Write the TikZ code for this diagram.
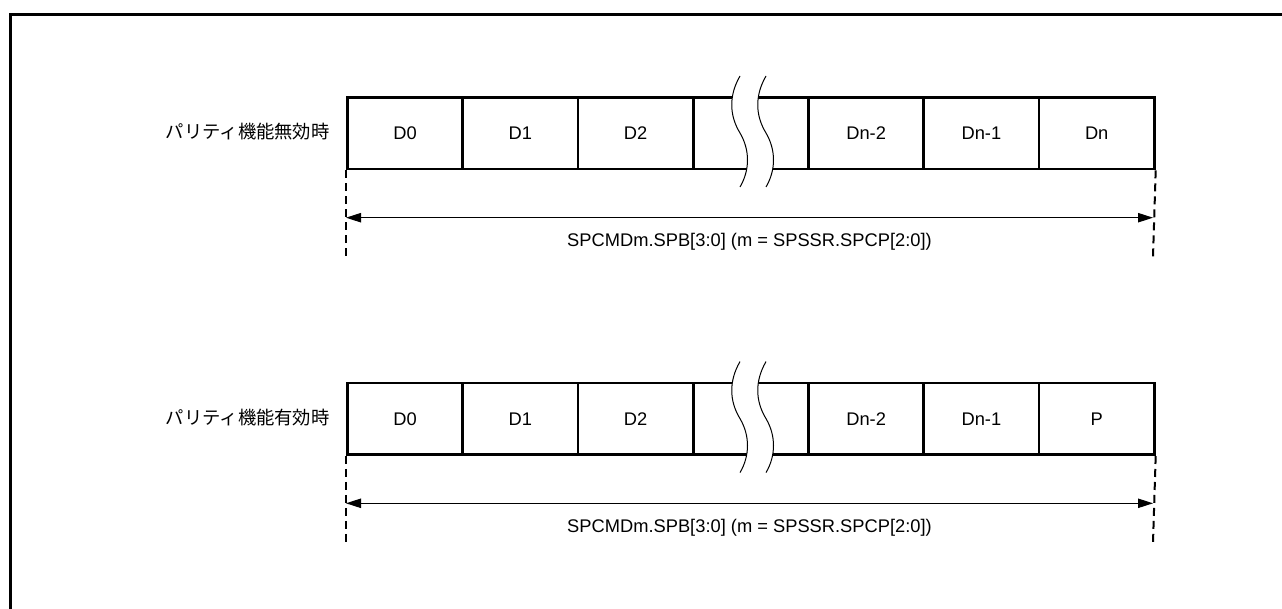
\documentclass[tikz,border=0pt]{standalone}
\usepackage{fontspec}
\setmainfont{Liberation Sans}
\newfontfamily\jpfont{Noto Sans CJK JP}
\usetikzlibrary{arrows.meta}
\begin{document}
\begin{tikzpicture}[x=0.5pt,y=-0.5pt,
  cell/.style={draw, line width=1.35pt, minimum width=57.643pt, minimum height=35.85pt,
    inner sep=0pt, anchor=north west, font=\fontsize{9.15}{11}\selectfont},
  frame/.style={line width=1.35pt, line join=miter},
  wave/.style={line width=0.5pt},
  dim/.style={line width=0.5pt, {Triangle[length=7.5pt,width=4.7pt]}-{Triangle[length=7.5pt,width=4.7pt]}},
  ext/.style={line width=1pt, dash pattern=on 4pt off 2.5pt},
  lbl/.style={font=\fontsize{9.15}{11}\selectfont},
  jlbl/.style={font=\jpfont\fontsize{9.15}{11}\selectfont, anchor=east, inner sep=0pt}]
\useasboundingbox (0,0) rectangle (1282,609);
\coordinate (ftr) at (1282,14.5);
\coordinate (ftl) at (10.7,14.5);
\coordinate (fbl) at (10.7,609);
\draw[frame] (ftr) -- (ftl) -- (fbl);
\foreach \r/\oy/\jl/\last in {1/0/パリティ機能無効時/Dn, 2/285.6/パリティ機能有効時/P}{
  \foreach \i/\t in {0/D0,1/D1,2/D2,3/{},4/Dn-2,5/Dn-1,6/\last}
    \node[cell] (r\r c\i) at ({346+\i*115.286},{96+\oy}) {\t};
  \fill[white] (740,{76+\oy}) .. controls (729,{95+\oy}) and (729,{115+\oy}) .. (740,{133+\oy})
     .. controls (750,{150+\oy}) and (750,{170+\oy}) .. (740,{187+\oy})
     -- (766,{187+\oy}) .. controls (776,{170+\oy}) and (776,{150+\oy}) .. (766,{133+\oy})
     .. controls (755,{115+\oy}) and (755,{95+\oy}) .. (766,{76+\oy}) -- cycle;
  \draw[wave] (740,{76+\oy}) .. controls (729,{95+\oy}) and (729,{115+\oy}) .. (740,{133+\oy})
     .. controls (750,{150+\oy}) and (750,{170+\oy}) .. (740,{187+\oy});
  \draw[wave] (766,{76+\oy}) .. controls (755,{95+\oy}) and (755,{115+\oy}) .. (766,{133+\oy})
     .. controls (776,{150+\oy}) and (776,{170+\oy}) .. (766,{187+\oy});
  \coordinate (r\r da) at (346,{257+\oy});
  \coordinate (r\r db) at (1153,{257+\oy});
  \draw[ext] (r\r c0.south west) -- (r\r da);
  \draw[ext] (r\r c6.south east) -- (r\r db);
  \coordinate (r\r al) at (346,{217.7+\oy});
  \coordinate (r\r ar) at (1153,{217.7+\oy});
  \draw[dim] (r\r al) -- (r\r ar);
  \node[lbl] (r\r t) at (749.5,{242+\oy}) {SPCMDm.SPB[3:0] (m = SPSSR.SPCP[2:0])};
  \node[jlbl] (r\r j) at (330,{132+\oy}) {\jl};
}
\end{tikzpicture}
\end{document}
